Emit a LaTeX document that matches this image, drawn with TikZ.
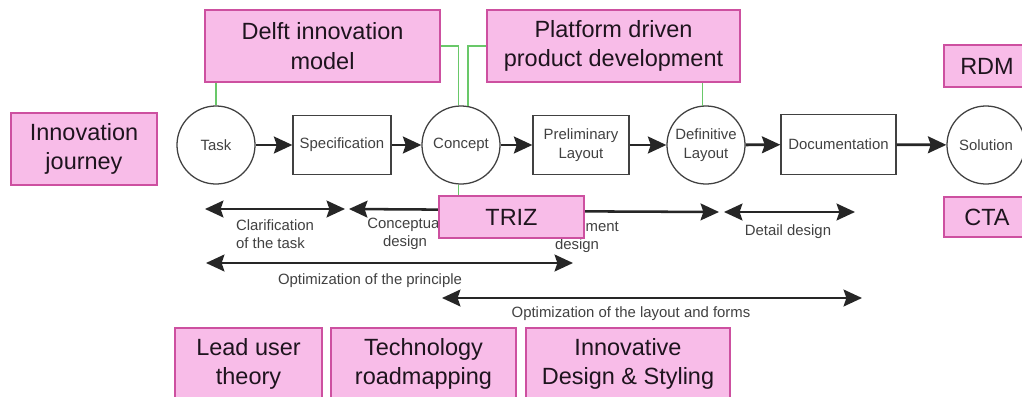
\documentclass[tikz,border=0pt]{standalone}
\usepackage{fontspec}
\setmainfont{Liberation Sans}
\usetikzlibrary{arrows.meta,calc}

\definecolor{pinkfill}{RGB}{248,188,232}
\definecolor{pinkedge}{RGB}{205,80,160}
\definecolor{pinktext}{RGB}{30,20,30}
\definecolor{linkgreen}{RGB}{105,200,105}
\definecolor{inkgray}{RGB}{65,65,65}

\begin{document}
\begin{tikzpicture}[
  x=0.025cm, y=-0.025cm,
  tip/.tip={Stealth[length=4.6mm,width=4.2mm,inset=0.7mm]},
  method/.style={rectangle, draw=pinkedge, line width=1.2pt, fill=pinkfill,
    text=pinktext, font=\fontsize{16.7}{21}\selectfont, align=center, inner sep=0pt},
  stage/.style={circle, draw=inkgray, line width=0.9pt, fill=white,
    minimum size=1.95cm, inner sep=0pt, text=inkgray,
    font=\fontsize{10.6}{13.5}\selectfont, align=center},
  deliverable/.style={rectangle, draw=inkgray, line width=0.9pt, fill=white,
    minimum height=1.475cm, inner sep=0pt, text=inkgray,
    font=\fontsize{10.6}{13.5}\selectfont, align=center},
  flow/.style={-tip, line width=2pt, black!85},
  span/.style={tip-tip, line width=1.8pt, black!85},
  link/.style={linkgreen, line width=0.9pt},
  phase/.style={text=inkgray, font=\fontsize{10.6}{12.8}\selectfont, align=center, inner sep=0pt}
]
\clip (0,0) rectangle (1022,396);
\fill[white] (0,0) rectangle (1022,396);

% process chain
\node[stage] (task) at (216,145) {Task};
\node[deliverable, minimum width=2.45cm] (spec) at (342,145) {Specification};
\node[stage] (concept) at (461,145) {Concept};
\node[deliverable, minimum width=2.4cm] (prelim) at (581,145) {Preliminary\\Layout};
\node[stage] (definitive) at (706,145) {Definitive\\Layout};
\node[deliverable, minimum width=2.875cm, minimum height=1.5cm] (doc) at (838.5,144.5) {Documentation};
\node[stage] (solution) at (986,145) {Solution};

\draw[flow] (task) -- (spec);
\draw[flow] (spec) -- (concept);
\draw[flow] (concept) -- (prelim);
\draw[flow] (prelim) -- (definitive);
\draw[flow] (definitive) -- (doc);
\draw[flow] (doc) -- (solution);

% design phases
\coordinate (clarA) at (205,209);
\coordinate (clarB) at (345,209);
\coordinate (concA) at (349,209);
\coordinate (concB) at (500,210);
\coordinate (embA) at (505,211);
\coordinate (embB) at (719,212);
\coordinate (detA) at (724,212);
\coordinate (detB) at (855,212);
\coordinate (prinA) at (206,263);
\coordinate (prinB) at (573,263);
\coordinate (layA) at (442,298);
\coordinate (layB) at (862,298);

\draw[span] (clarA) -- (clarB);
\draw[span] (concA) -- (concB);
\draw[span] (embA) -- (embB);
\draw[span] (detA) -- (detB);
\draw[span] (prinA) -- (prinB);
\draw[span] (layA) -- (layB);

\node[phase, align=left] (clarL) at (275,234) {Clarification\\of the task};
\node[phase] (concL) at (405,234) {Conceptual\\design};
\node[phase] (embL) at (577,236.5) {Embodiment\\design};
\node[phase] (detL) at (788,232) {Detail design};
\node[phase] (prinL) at (370,281) {Optimization of the principle};
\node[phase] (layL) at (631,314) {Optimization of the layout and forms};

% methods
\node[method, minimum width=5.875cm, minimum height=1.8cm] (delft) at (322.5,46) {Delft innovation\\model};
\node[method, minimum width=6.325cm, minimum height=1.8cm] (platform) at (613.5,46) {Platform driven\\product development};
\node[method, minimum width=2.15cm, minimum height=1.05cm] (rdm) at (987,66) {RDM};
\node[method, minimum width=2.15cm, minimum height=1.0cm] (cta) at (987,217) {CTA};
\node[method, minimum width=3.65cm, minimum height=1.8cm] (journey) at (84,149) {Innovation\\journey};
\node[method, minimum width=3.625cm, minimum height=1.05cm] (triz) at (511.5,217) {TRIZ};
\node[method, minimum width=3.675cm, minimum height=1.8cm] (lead) at (248.5,364) {Lead user\\theory};
\node[method, minimum width=4.625cm, minimum height=1.8cm] (roadmap) at (423.5,364) {Technology\\roadmapping};
\node[method, minimum width=5.1cm, minimum height=1.8cm] (styling) at (628,364) {Innovative\\Design \& Styling};

% links between methods and stages
\draw[link] (task.north) -- (task.north |- delft.south);
\draw[link] (concept.94) |- (delft.east);
\draw[link] (concept.80) |- (platform.west);
\draw[link] (definitive.95) -- (definitive.95 |- platform.south);
\draw[link] (concept.266) -- (concept.266 |- triz.north);
\draw[link] ($(prelim.south)+(-26,0)$) -- ($(prelim.south)+(-26,0)$ |- triz.north);
\end{tikzpicture}
\end{document}
